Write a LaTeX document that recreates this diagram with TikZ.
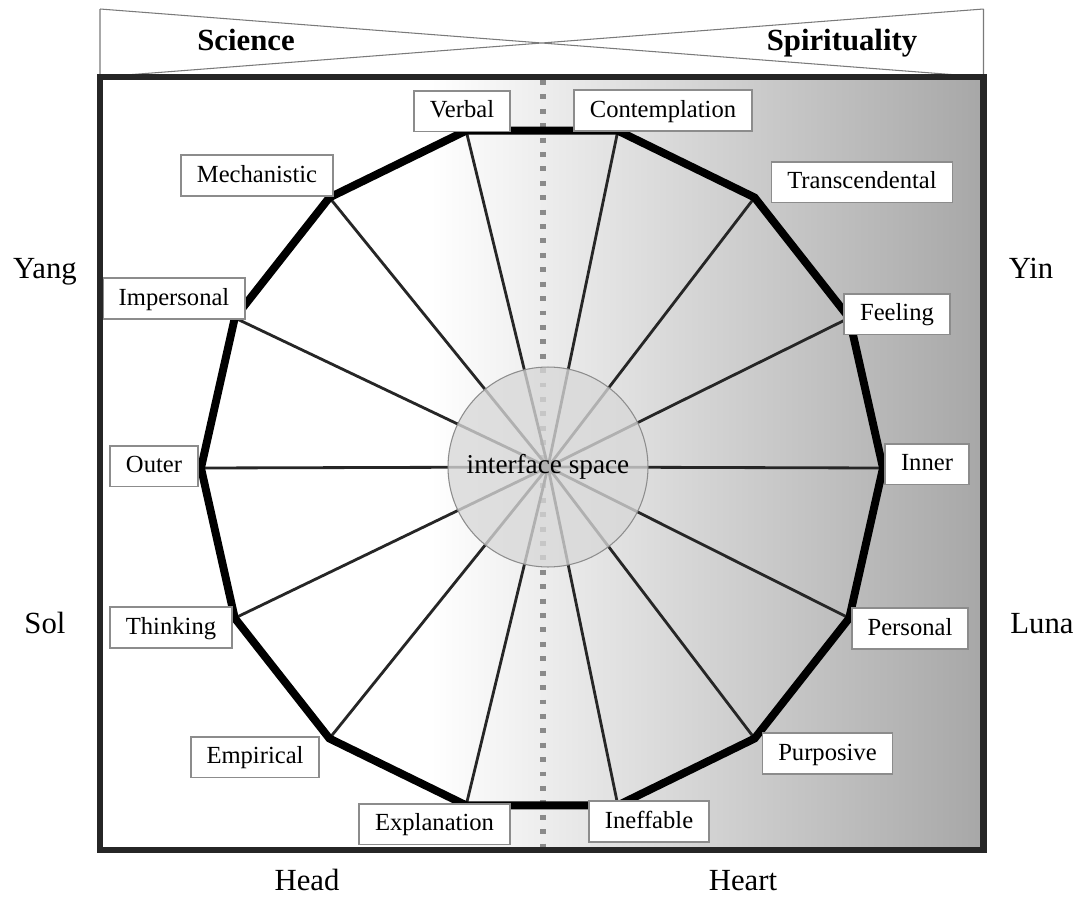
\documentclass[tikz,border=0pt]{standalone}
\usepackage{fontspec}
\setmainfont{Liberation Serif}
\usepackage{xcolor}
\usepackage{tikz}
\usetikzlibrary{calc,positioning}
\definecolor{frameline}{HTML}{262626}
\definecolor{boxline}{HTML}{8C8C8C}
\definecolor{shadeend}{HTML}{A7A7A7}
\definecolor{hubfill}{HTML}{D8D8D8}
\definecolor{dotgray}{HTML}{8A8A8A}
\definecolor{headline}{HTML}{7A7A7A}
\definecolor{spokeline}{HTML}{262626}

\begin{document}
\begin{tikzpicture}[x=0.02cm,y=-0.02cm,
  pole/.style={draw=boxline,line width=1.1pt,fill=white,inner xsep=9pt,inner ysep=0pt,text height=9pt,text depth=1.4pt,minimum height=23.3pt,font=\fontsize{14}{16}\selectfont},
  side/.style={text height=12pt,text depth=3.5pt,font=\fontsize{17.5}{19}\selectfont},
  spoke/.style={spokeline,line width=1.6pt}]
\useasboundingbox (0,0) rectangle (1086,900);
% frame background
\fill[white] (100,77) rectangle (430,850);
\shade[left color=white,right color=shadeend] (430,77) rectangle (983.5,850);
% header bow tie
\coordinate (htl) at (100,9);
\coordinate (hbl) at (100,77);
\coordinate (htr) at (983.5,9);
\coordinate (hbr) at (983.5,77);
\draw[headline,line width=0.6pt] (htl) -- (hbl) (htr) -- (hbr) (htl) -- (hbr) (htr) -- (hbl);
\node[side,font=\fontsize{17.5}{19}\selectfont\bfseries] (science) at (246,43) {Science};
\node[side,font=\fontsize{17.5}{19}\selectfont\bfseries] (spirit) at (842,43) {Spirituality};
% divider
\coordinate (dtop) at (543,80);
\coordinate (dbot) at (543,848);
\draw[dotgray,line width=3.4pt,dash pattern=on 2.8pt off 5.4pt] (dtop) -- (dbot);
% wheel
\coordinate (ctr) at (542,468);
\coordinate (hub) at (548,467);
\foreach \i in {0,...,13}
  \coordinate (v\i) at ($(ctr)+({341*cos(\i*360/14)},{-346*sin(\i*360/14)})$);
\foreach \i in {0,...,13}
  \draw[spoke] (hub) -- (v\i);
\draw[line width=4.5pt,line join=miter] (v0) \foreach \i in {1,...,13}{ -- (v\i)} -- cycle;
\node[circle,draw=boxline,line width=0.6pt,fill=hubfill,fill opacity=0.78,text opacity=1,minimum size=4cm,font=\fontsize{15.5}{17}\selectfont] (iface) at (hub) {interface space};
% poles
\node[pole] (inner) at (927,464) {Inner};
\node[pole] (feeling) at (897,314) {Feeling};
\node[pole] (transc) at (862,182) {Transcendental};
\node[pole] (contempl) at (663,110.5) {Contemplation};
\node[pole] (verbal) at (462,111) {Verbal};
\node[pole] (mechan) at (257,175.5) {Mechanistic};
\node[pole] (impers) at (174,298.5) {Impersonal};
\node[pole] (outer) at (154,466) {Outer};
\node[pole] (thinking) at (171,627.5) {Thinking};
\node[pole] (empir) at (255,757) {Empirical};
\node[pole] (explan) at (434.5,824) {Explanation};
\node[pole] (ineff) at (649,821.5) {Ineffable};
\node[pole] (purpos) at (827.5,753.5) {Purposive};
\node[pole] (persnl) at (910,628.5) {Personal};
% frame
\draw[frameline,line width=3.8pt] (100,77) rectangle (983.5,850);
% sides
\node[side] (yang) at (45,271) {Yang};
\node[side] (yin) at (1031,271) {Yin};
\node[side] (sol) at (45,626) {Sol};
\node[side] (luna) at (1042,626) {Luna};
\node[side] (head) at (307,883) {Head};
\node[side] (heart) at (743,883) {Heart};
\end{tikzpicture}
\end{document}
